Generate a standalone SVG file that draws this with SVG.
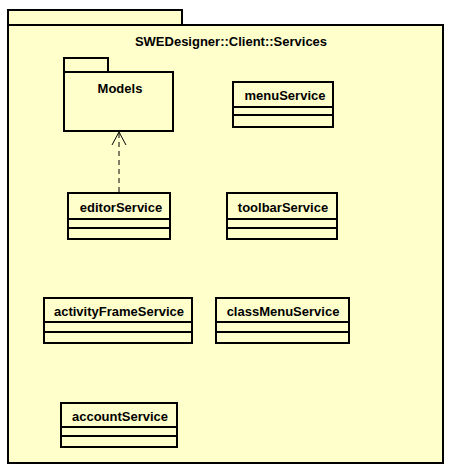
<svg xmlns="http://www.w3.org/2000/svg" width="455" height="473" viewBox="0 0 455 473">
<style>
.s{fill:#ffffcc;stroke:#000;stroke-width:2}
.l{stroke:#000;stroke-width:2;fill:none}
text{font-family:"Liberation Sans",Arial,sans-serif;font-weight:bold;font-size:13px;fill:#000;text-anchor:middle}
</style>
<rect width="455" height="473" fill="#fff"/>
<g id="pkg-services">
<rect class="s" x="8" y="10" width="174" height="15"/>
<rect class="s" x="8" y="25" width="435" height="438"/>
<text x="231" y="46">SWEDesigner::Client::Services</text>
</g>
<g id="pkg-models">
<rect class="s" x="64" y="58" width="44" height="14"/>
<rect class="s" x="64" y="72" width="109" height="59"/>
<text x="120" y="93">Models</text>
</g>
<g id="menuService">
<rect class="s" x="233" y="82" width="100" height="45"/>
<path class="l" d="M233 107H333M233 115H333"/>
<text x="285" y="100">menuService</text>
</g>
<g id="editorService">
<rect class="s" x="68" y="193" width="102" height="46"/>
<path class="l" d="M68 219H170M68 228H170"/>
<text x="121" y="212">editorService</text>
</g>
<g id="toolbarService">
<rect class="s" x="227" y="193" width="110" height="46"/>
<path class="l" d="M227 219H337M227 228H337"/>
<text x="283" y="212">toolbarService</text>
</g>
<g id="activityFrameService">
<rect class="s" x="44" y="298" width="148" height="45"/>
<path class="l" d="M44 322H192M44 332H192"/>
<text x="119" y="316">activityFrameService</text>
</g>
<g id="classMenuService">
<rect class="s" x="216" y="298" width="133" height="45"/>
<path class="l" d="M216 322H349M216 332H349"/>
<text x="283" y="316">classMenuService</text>
</g>
<g id="accountService">
<rect class="s" x="61" y="403" width="116" height="44"/>
<path class="l" d="M61 427H177M61 436H177"/>
<text x="120" y="421">accountService</text>
</g>
<g id="connectors">
<path d="M119 192V133" stroke="#000" stroke-width="1" stroke-dasharray="5,4" fill="none"/>
<path d="M112 145L119 132L126 145" stroke="#000" stroke-width="1" fill="none"/>
</g>
</svg>
